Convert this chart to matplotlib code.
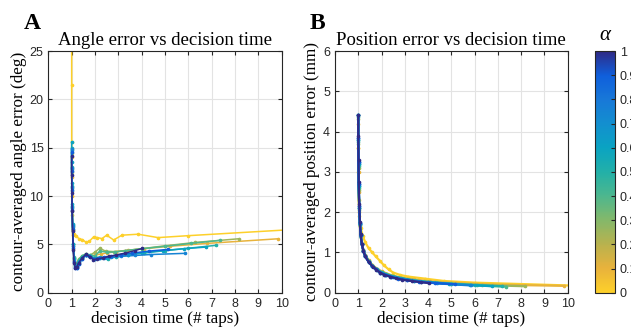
import numpy as np
import matplotlib
matplotlib.use('Agg')
import matplotlib.pyplot as plt
from matplotlib.colors import LinearSegmentedColormap, Normalize
from matplotlib.cm import ScalarMappable

# valori di alpha per ogni curva
alphas = [0.0, 0.1, 0.25, 0.4, 0.5, 0.6, 0.75, 0.9, 1.0]

# tempo di decisione (# taps) per ogni curva
x0 = [1.0, 1.0, 1.0, 1.02, 1.05, 1.1, 1.2, 1.3, 1.45, 1.6, 1.75, 1.95, 2.1, 2.3, 2.5, 2.8, 3.15, 3.85, 4.7, 6.0, 10.6]
x1 = [1.0, 1.0, 1.01, 1.02, 1.04, 1.07, 1.1, 1.15, 1.22, 1.3, 1.45, 1.6, 1.8, 2.0, 2.25, 2.5, 2.9, 3.4, 4.1, 5.2, 6.8, 9.86]
x2 = [1.0, 1.0, 1.01, 1.02, 1.04, 1.07, 1.1, 1.15, 1.22, 1.3, 1.45, 1.6, 1.8, 2.0, 2.2, 2.45, 2.8, 3.3, 4.0, 5.0, 6.3, 8.17]
x3 = [1.0, 1.0, 1.01, 1.02, 1.04, 1.07, 1.1, 1.15, 1.22, 1.3, 1.45, 1.6, 1.8, 2.0, 2.2, 2.5, 2.85, 3.3, 4.0, 5.0, 6.1, 7.36]
x4 = [1.0, 1.0, 1.01, 1.02, 1.04, 1.07, 1.1, 1.15, 1.22, 1.3, 1.45, 1.6, 1.8, 2.0, 2.2, 2.55, 2.9, 3.4, 4.1, 5.0, 6.0, 7.19]
x5 = [1.0, 1.0, 1.01, 1.02, 1.04, 1.07, 1.1, 1.15, 1.22, 1.3, 1.45, 1.6, 1.8, 2.0, 2.2, 2.5, 2.9, 3.4, 4.0, 4.9, 5.8, 6.76]
x6 = [1.0, 1.0, 1.01, 1.02, 1.04, 1.07, 1.1, 1.15, 1.22, 1.3, 1.45, 1.6, 1.75, 1.95, 2.15, 2.4, 2.7, 3.1, 3.7, 4.4, 5.84]
x7 = [1.0, 1.0, 1.01, 1.02, 1.04, 1.07, 1.1, 1.15, 1.22, 1.3, 1.45, 1.6, 1.75, 1.95, 2.15, 2.4, 2.7, 3.1, 3.6, 4.3, 5.14]
x8 = [1.0, 1.0, 1.01, 1.02, 1.04, 1.07, 1.1, 1.15, 1.22, 1.3, 1.45, 1.62, 1.78, 1.93, 2.1, 2.35, 2.6, 2.9, 3.3, 3.7, 4.03]

# errore angolare (deg)
a0 = [30.0, 21.5, 15.6, 10.0, 6.5, 6.1, 5.9, 5.6, 5.5, 5.25, 5.3, 5.8, 5.7, 5.6, 5.95, 5.45, 5.95, 6.05, 5.7, 5.9, 6.55]
a1 = [14.0, 12.0, 10.0, 8.0, 6.0, 4.5, 3.4, 3.0, 3.1, 3.4, 3.7, 3.9, 3.8, 3.9, 4.0, 4.1, 4.25, 4.4, 4.55, 4.8, 5.1, 5.58]
a2 = [14.5, 12.5, 10.5, 8.5, 6.5, 4.8, 3.6, 3.0, 3.0, 3.5, 3.8, 4.0, 3.9, 4.2, 4.6, 4.3, 4.25, 4.35, 4.55, 4.85, 5.2, 5.58]
a3 = [14.8, 12.8, 10.8, 8.8, 6.8, 5.0, 3.7, 3.0, 2.9, 3.4, 3.8, 4.0, 3.9, 3.8, 4.3, 4.2, 4.2, 4.35, 4.55, 4.8, 5.1, 5.41]
a4 = [15.0, 13.0, 11.0, 9.0, 7.0, 5.0, 3.6, 2.9, 2.8, 3.3, 3.7, 3.95, 3.8, 3.6, 3.7, 3.5, 3.7, 3.9, 4.1, 4.35, 4.6, 4.9]
a5 = [15.6, 13.5, 11.3, 9.2, 7.1, 5.0, 3.5, 2.8, 2.7, 3.2, 3.6, 3.9, 3.7, 3.5, 3.6, 3.6, 3.75, 3.95, 4.15, 4.35, 4.55, 4.72]
a6 = [14.9, 12.9, 10.9, 8.9, 6.9, 4.8, 3.3, 2.7, 2.6, 3.0, 3.5, 3.85, 3.75, 3.5, 3.55, 3.6, 3.65, 3.75, 3.85, 3.95, 4.07]
a7 = [14.6, 12.6, 10.6, 8.6, 6.6, 4.6, 3.2, 2.6, 2.6, 3.0, 3.5, 3.9, 3.8, 3.5, 3.6, 3.7, 3.8, 3.95, 4.1, 4.3, 4.48]
a8 = [14.1, 12.2, 10.3, 8.4, 6.4, 4.4, 3.1, 2.6, 2.7, 3.1, 3.6, 4.0, 3.7, 3.4, 3.5, 3.6, 3.75, 3.9, 4.1, 4.35, 4.58]

# errore di posizione (mm)
p0 = [4.4, 3.6, 3.0, 2.3, 1.9, 1.6, 1.4, 1.25, 1.1, 1.0, 0.9, 0.78, 0.68, 0.58, 0.5, 0.44, 0.4, 0.35, 0.29, 0.25, 0.17]
p1 = [4.2, 3.6, 3.0, 2.5, 2.0, 1.65, 1.42, 1.22, 1.06, 0.94, 0.8, 0.69, 0.6, 0.53, 0.47, 0.42, 0.37, 0.33, 0.28, 0.24, 0.2, 0.17]
p2 = [4.3, 3.7, 3.1, 2.55, 2.05, 1.68, 1.43, 1.22, 1.05, 0.93, 0.79, 0.68, 0.59, 0.52, 0.47, 0.42, 0.37, 0.32, 0.27, 0.23, 0.19, 0.16]
p3 = [4.35, 3.75, 3.15, 2.6, 2.1, 1.7, 1.44, 1.22, 1.05, 0.92, 0.78, 0.67, 0.58, 0.51, 0.46, 0.41, 0.36, 0.31, 0.26, 0.22, 0.18, 0.15]
p4 = [4.4, 3.8, 3.2, 2.65, 2.1, 1.7, 1.43, 1.21, 1.04, 0.91, 0.77, 0.66, 0.57, 0.5, 0.45, 0.39, 0.35, 0.3, 0.26, 0.22, 0.19, 0.16]
p5 = [4.4, 3.8, 3.2, 2.65, 2.1, 1.7, 1.43, 1.21, 1.04, 0.91, 0.77, 0.66, 0.57, 0.5, 0.45, 0.4, 0.35, 0.3, 0.26, 0.22, 0.19, 0.16]
p6 = [4.4, 3.85, 3.25, 2.7, 2.15, 1.72, 1.44, 1.21, 1.04, 0.9, 0.76, 0.66, 0.58, 0.5, 0.45, 0.4, 0.36, 0.31, 0.27, 0.23, 0.18]
p7 = [4.4, 3.85, 3.25, 2.7, 2.15, 1.72, 1.44, 1.21, 1.04, 0.9, 0.76, 0.66, 0.58, 0.5, 0.45, 0.4, 0.35, 0.31, 0.27, 0.24, 0.21]
p8 = [4.4, 3.9, 3.3, 2.75, 2.2, 1.75, 1.45, 1.22, 1.04, 0.9, 0.76, 0.65, 0.57, 0.5, 0.45, 0.4, 0.36, 0.32, 0.29, 0.26, 0.24]

xs = [x0, x1, x2, x3, x4, x5, x6, x7, x8]
angs = [a0, a1, a2, a3, a4, a5, a6, a7, a8]
poss = [p0, p1, p2, p3, p4, p5, p6, p7, p8]

# colormap tipo parula (giallo -> blu scuro)
cmap = LinearSegmentedColormap.from_list('parula_r', [
    '#fdd02a', '#e8b23c', '#b8b24e', '#84b86a', '#4db78e',
    '#22b0a8', '#0aa3c2', '#138fcf', '#1878d8', '#0f5fdc', '#2f2a86'])
norm = Normalize(0, 1)

plt.rcParams['font.family'] = ['Liberation Sans', 'DejaVu Sans']
serif = 'Liberation Serif'
grey = '#262626'

fig = plt.figure(figsize=(6.31, 3.31), dpi=100)
axA = fig.add_axes([0.0766, 0.1157, 0.3698, 0.7302])
axB = fig.add_axes([0.5309, 0.1157, 0.3688, 0.7302])
cax = fig.add_axes([0.9430, 0.1157, 0.0317, 0.7302])

for xv, av, pv, al in zip(xs, angs, poss, alphas):
    c = cmap(norm(al))
    axA.plot(xv, av, '-o', color=c, lw=1.1, ms=1.6)
    axB.plot(xv, pv, '-o', color=c, lw=1.6, ms=1.6)

def stile(ax, ymax, ystep, titolo, ylab):
    ax.set_xlim(0, 10)
    ax.set_ylim(0, ymax)
    ax.set_xticks(np.arange(0, 11, 1))
    ax.set_yticks(np.arange(0, ymax + 0.1, ystep))
    ax.grid(True, color='#e3e3e3', lw=0.8)
    ax.set_axisbelow(True)
    ax.tick_params(direction='in', top=True, right=True, labelsize=9,
                   colors=grey, length=3, width=0.8)
    for s in ax.spines.values():
        s.set_color(grey)
        s.set_linewidth(0.8)
    ax.set_title(titolo, family=serif, fontsize=13.5, pad=4)
    ax.set_xlabel('decision time (# taps)', family=serif, fontsize=12.3, labelpad=1)
    ax.set_ylabel(ylab, family=serif, fontsize=12.3, labelpad=2)

stile(axA, 25, 5, 'Angle error vs decision time', 'contour-averaged angle error (deg)')
stile(axB, 6, 1, 'Position error vs decision time', 'contour-averaged position error (mm)')

fig.text(0.038, 0.912, 'A', family=serif, weight='bold', fontsize=17)
fig.text(0.491, 0.912, 'B', family=serif, weight='bold', fontsize=17)

# barra dei colori
cb = fig.colorbar(ScalarMappable(norm=norm, cmap=cmap), cax=cax)
cb.set_ticks(np.arange(0, 1.01, 0.1))
cb.set_ticklabels(['0'] + ['%.1f' % v for v in np.arange(0.1, 0.95, 0.1)] + ['1'])
cax.tick_params(direction='in', labelsize=9, colors=grey, length=3, width=0.8)
cb.outline.set_edgecolor(grey)
cb.outline.set_linewidth(0.8)
fig.text(0.9585, 0.88, 'α', family=serif, style='italic', fontsize=15, ha='center')

fig.savefig('out.png', dpi=100)
